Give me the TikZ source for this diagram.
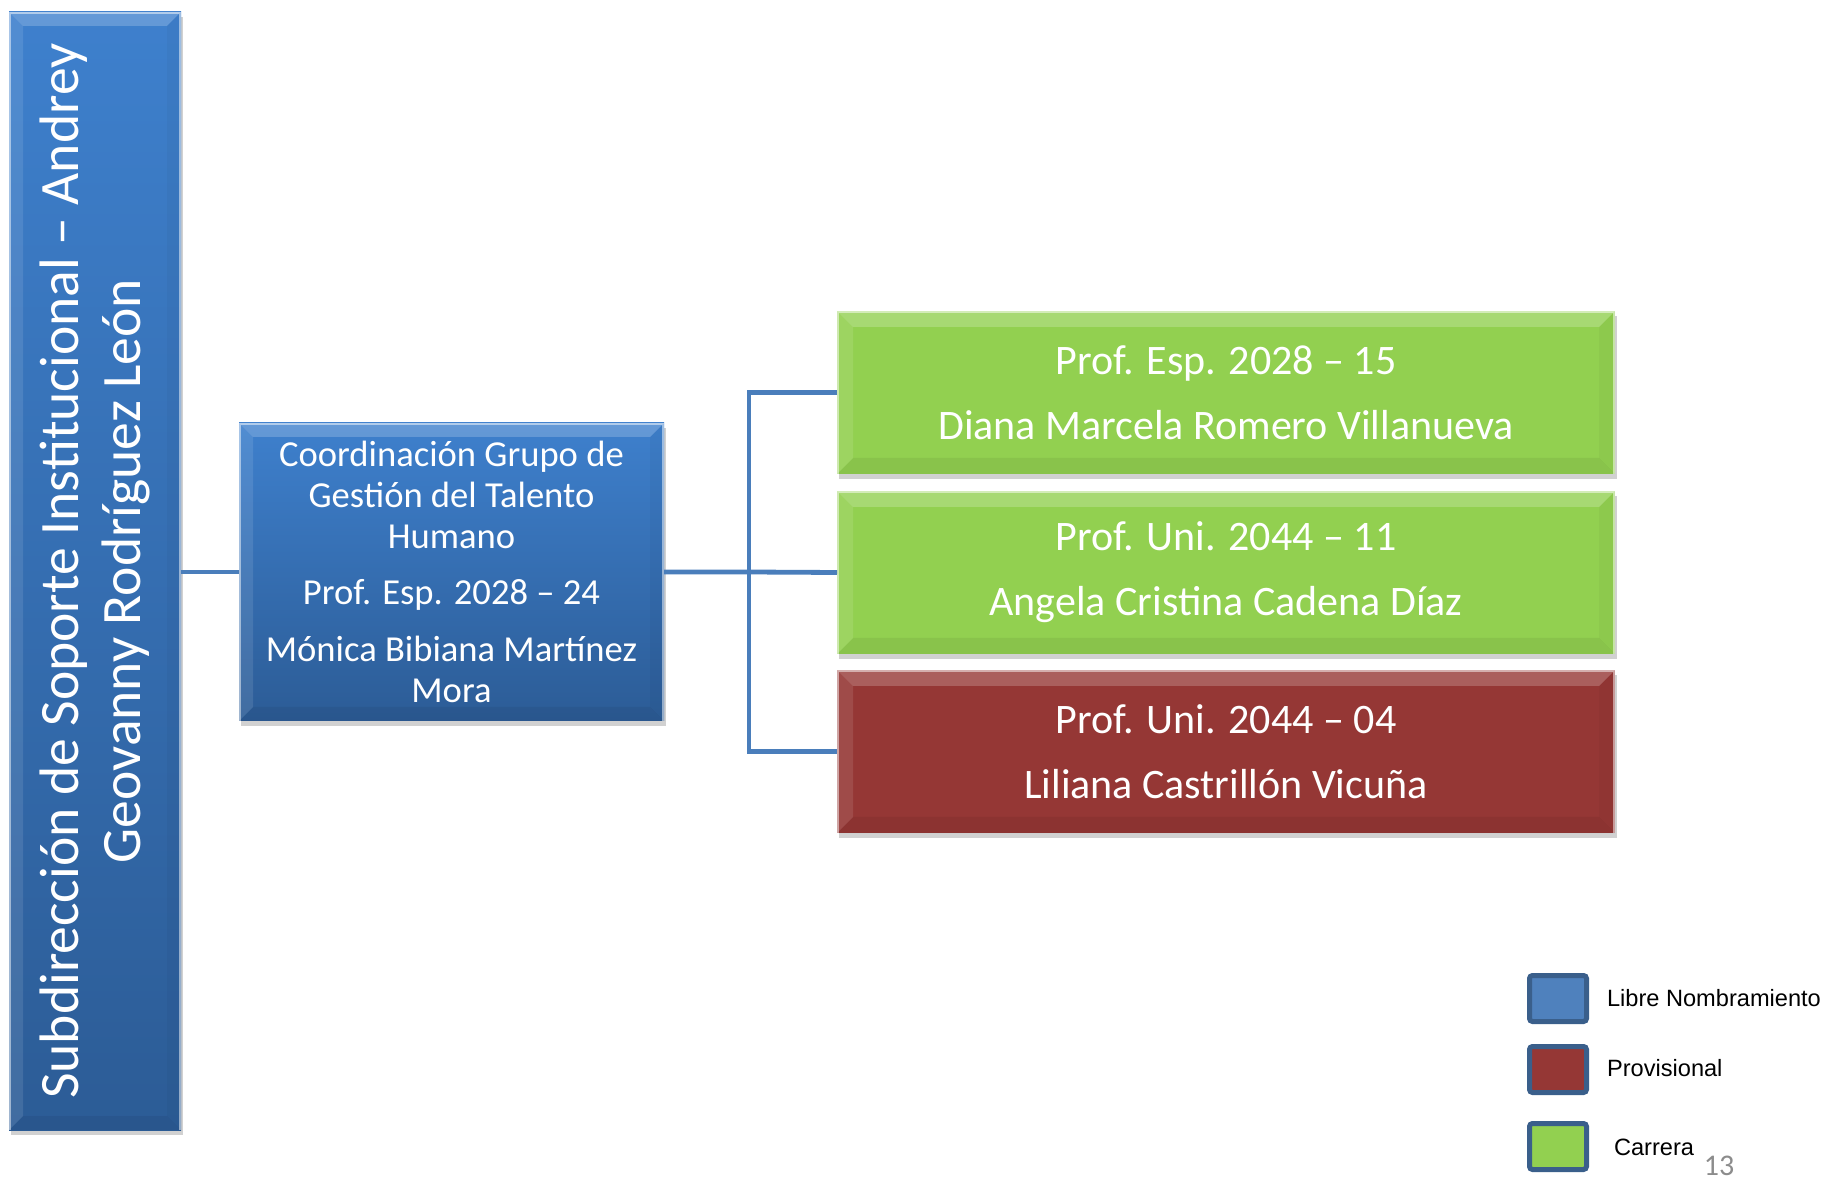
\documentclass[tikz,border=0pt]{standalone}
\usepackage{fontspec}
\setmainfont{Carlito}
\newfontfamily\arialf{Liberation Sans}
\usetikzlibrary{calc,shadows}
\definecolor{blueA}{HTML}{3E80CD}
\definecolor{blueB}{HTML}{2C5C96}
\definecolor{grn}{HTML}{92D050}
\definecolor{redc}{HTML}{953735}
\definecolor{conncol}{HTML}{4A7EBB}
\definecolor{legborder}{HTML}{3A5F8B}
\definecolor{legblue}{HTML}{4F81BD}
\definecolor{pagenum}{HTML}{8C8C8C}
\newcommand{\bevelize}[2]{%
 \fill[white,opacity=.2] (#1.north west) -- (#1.north east) -- ($(#1.north east)+(-#2,#2)$) -- ($(#1.north west)+(#2,#2)$) -- cycle;
 \fill[white,opacity=.1] (#1.north west) -- ($(#1.north west)+(#2,#2)$) -- ($(#1.south west)+(#2,-#2)$) -- (#1.south west) -- cycle;
 \fill[black,opacity=.06] (#1.south west) -- ($(#1.south west)+(#2,-#2)$) -- ($(#1.south east)+(-#2,-#2)$) -- (#1.south east) -- cycle;
 \fill[black,opacity=.03] (#1.north east) -- (#1.south east) -- ($(#1.south east)+(-#2,-#2)$) -- ($(#1.north east)+(-#2,#2)$) -- cycle;
 \draw[white,opacity=.5,line width=1.2pt] ($(#1.south west)+(1,0)$) -- ($(#1.north west)+(1,1)$) -- ($(#1.north east)+(-1,1)$) -- ($(#1.south east)+(-1,0)$);
}
\tikzset{
 box/.style={rectangle, inner sep=0pt, outer sep=0pt, draw=none,
   drop shadow={shadow xshift=1.2pt, shadow yshift=-2.5pt, fill=black, opacity=.18}},
 bluebox/.style={box, top color=blueA, bottom color=blueB},
 greenbox/.style={box, fill=grn, minimum width=389pt, minimum height=81.5pt},
 redbox/.style={box, fill=redc, minimum width=389pt, minimum height=81.5pt},
 boxtext/.style={text=white, align=center},
 conn/.style={draw=conncol, line width=2.4pt},
 legbox/.style={rectangle, draw=legborder, line width=2.5pt, rounded corners=1.5pt, minimum width=28.5pt, minimum height=23pt},
 legtext/.style={anchor=west, font=\arialf\fontsize{11.8}{14}\selectfont, text=black},
}
\begin{document}
\begin{tikzpicture}[x=0.5pt,y=-0.5pt]
\useasboundingbox (0,0) rectangle (1827,1181);
% boxes
\node[bluebox, minimum width=86pt, minimum height=559pt] (bar) at (95,571) {};
\node[bluebox, minimum width=212.5pt, minimum height=149pt] (coord) at (451.5,572) {};
\node[greenbox] (g1) at (1226,392.5) {};
\node[greenbox] (g2) at (1226,572.5) {};
\node[redbox] (r1) at (1226,751.5) {};
\bevelize{bar}{14}
\bevelize{coord}{14}
\bevelize{g1}{16}
\bevelize{g2}{16}
\bevelize{r1}{16}
% texts
\node[boxtext, rotate=90, font=\fontsize{27.8}{31}\selectfont] (bart) at (bar.center)
  {Subdirección de Soporte Institucional – Andrey\\Geovanny Rodríguez León};
\node[boxtext, font=\fontsize{18.3}{20.4}\selectfont] (coordt) at (coord.center)
  {Coordinación Grupo de\\Gestión del Talento\\Humano\\[8pt]Prof. Esp. 2028 – 24\\[8pt]Mónica Bibiana Martínez\\Mora};
\node[boxtext, font=\fontsize{21}{32.5}\selectfont] (g1t) at (g1.center)
  {Prof. Esp. 2028 – 15\\Diana Marcela Romero Villanueva};
\node[boxtext, font=\fontsize{21}{32.5}\selectfont] (g2t) at (g2.center)
  {Prof. Uni. 2044 – 11\\Angela Cristina Cadena Díaz};
\node[boxtext, font=\fontsize{21}{32.5}\selectfont] (r1t) at (r1.center)
  {Prof. Uni. 2044 – 04\\Liliana Castrillón Vicuña};
% connectors
\coordinate (j) at (749,572);
\draw[conn] (coord.west -| bar.east) -- (coord.west);
\draw[conn] (coord.east) -- (j) -- (g2.west);
\draw[conn] (g1.west) -- (g1.west -| j) -- (r1.west -| j) -- (r1.west);
% legend
\node[legbox, fill=legblue] (lb1) at (1558,998.5) {};
\node[legbox, fill=redc] (lb2) at (1558,1069.5) {};
\node[legbox, fill=grn] (lb3) at (1558,1146.5) {};
\node[legtext] (lt1) at (1600,998) {Libre Nombramiento};
\node[legtext] (lt2) at (1600,1068) {Provisional};
\node[legtext] (lt3) at (1607,1147) {Carrera};
\node[anchor=base, text=pagenum, font=\fontsize{15}{18}\selectfont, inner sep=0pt] (pn) at (1719,1175) {13};
\end{tikzpicture}
\end{document}
